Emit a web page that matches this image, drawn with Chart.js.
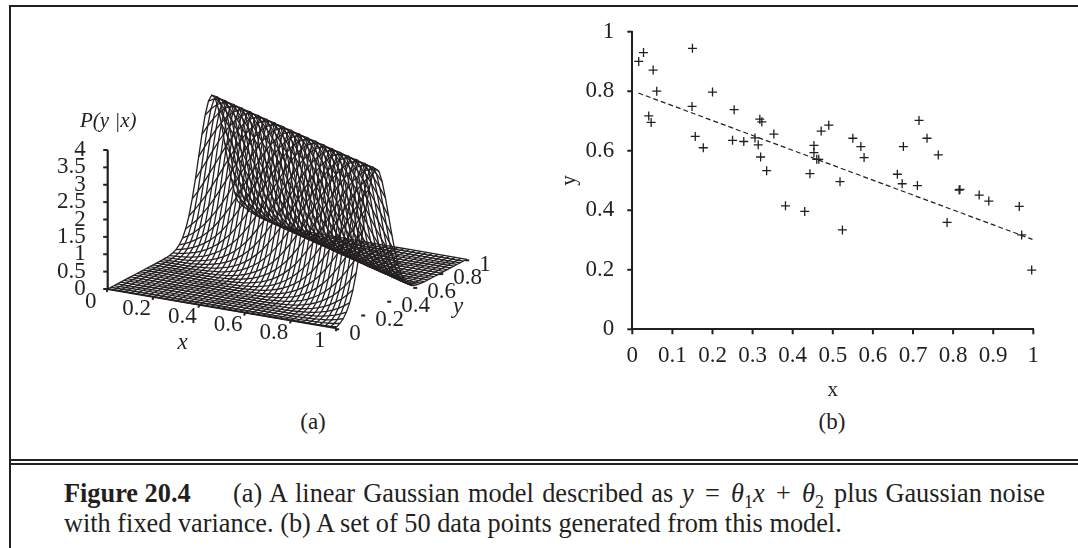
<!DOCTYPE html>
<html>
<head>
<meta charset="utf-8">
<title>Figure 20.4</title>
<script src="https://cdn.jsdelivr.net/npm/chart.js@4/dist/chart.umd.min.js"></script>
<style>
html, body { margin: 0; padding: 0; background: #fff; overflow: hidden; }
body { width: 1078px; height: 548px; position: relative; font-family: "Liberation Serif", serif; color: #231f20; }
.rule { position: absolute; background: #231f20; }
canvas { position: absolute; }
.sub { position: absolute; font-size: 23px; line-height: 26px; transform: translateX(-50%); }
.cap { position: absolute; font-size: 26.3px; line-height: 24px; white-space: nowrap; }
.cap i { font-style: italic; }
.cap sub { font-size: 18px; line-height: 0; }
</style>
</head>
<body>
<div class="rule" style="left:9px;top:5px;width:1069px;height:2px"></div>
<div class="rule" style="left:9px;top:5px;width:2px;height:543px"></div>
<div class="rule" style="left:9px;top:459px;width:1069px;height:2px"></div>
<div class="rule" style="left:9px;top:463px;width:1069px;height:2px"></div>

<canvas id="surfaceChart" style="left:12px;top:60px" width="500" height="340"></canvas>
<canvas id="scatterChart" style="left:550px;top:10px" width="510" height="395"></canvas>

<div class="sub" style="left:313px;top:409px">(a)</div>
<div class="sub" style="left:832px;top:409px">(b)</div>

<div class="cap" style="left:64px;top:482px"><b>Figure 20.4</b></div>
<div class="cap" style="left:233px;top:482px;word-spacing:1.8px">(a) A linear Gaussian model described as</div>
<div class="cap" style="left:682px;top:482px;word-spacing:4.7px"><i>y</i> = <i>&theta;</i><sub>1</sub><i>x</i> + <i>&theta;</i><sub>2</sub></div>
<div class="cap" style="left:834px;top:482px;word-spacing:1px">plus Gaussian noise</div>
<div class="cap" style="left:64px;top:512px">with fixed variance. (b) A set of 50 data points generated from this model.</div>

<script>
// Scatter panel (b)
const pointsX = [0.016, 0.028, 0.052, 0.061, 0.041, 0.047, 0.150, 0.149, 0.157, 0.177,
    0.200, 0.254, 0.250, 0.278, 0.318, 0.323, 0.353, 0.306, 0.314, 0.320,
    0.335, 0.443, 0.453, 0.453, 0.460, 0.465, 0.471, 0.490, 0.382, 0.430,
    0.518, 0.524, 0.550, 0.570, 0.578, 0.661, 0.673, 0.676, 0.711, 0.715,
    0.735, 0.763, 0.785, 0.815, 0.817, 0.865, 0.889, 0.965, 0.971, 0.996];
const pointsY = [0.900, 0.930, 0.871, 0.800, 0.717, 0.695, 0.944, 0.749, 0.648, 0.610,
    0.797, 0.738, 0.635, 0.631, 0.706, 0.697, 0.656, 0.643, 0.620, 0.579,
    0.533, 0.523, 0.618, 0.594, 0.571, 0.571, 0.666, 0.686, 0.415, 0.396,
    0.496, 0.334, 0.642, 0.614, 0.577, 0.521, 0.489, 0.614, 0.483, 0.702,
    0.642, 0.586, 0.359, 0.468, 0.470, 0.451, 0.431, 0.413, 0.317, 0.199];
const fitX = [0.015, 0.998];
const fitY = [0.794, 0.302];

// Surface panel (a): columns of the mesh and the ridge
const meshX = [0, 0.025, 0.05, 0.075, 0.1, 0.125, 0.15, 0.175, 0.2, 0.225, 0.25, 0.275, 0.3, 0.325, 0.35, 0.375, 0.4, 0.425, 0.45, 0.475,
    0.5, 0.525, 0.55, 0.575, 0.6, 0.625, 0.65, 0.675, 0.7, 0.725, 0.75, 0.775, 0.8, 0.825, 0.85, 0.875, 0.9, 0.925, 0.95, 0.975, 1];
const meshY = meshX;
const ridgeY = [0.8, 0.7875, 0.775, 0.7625, 0.75, 0.7375, 0.725, 0.7125, 0.7, 0.6875, 0.675, 0.6625, 0.65, 0.6375, 0.625, 0.6125, 0.6, 0.5875, 0.575, 0.5625,
    0.55, 0.5375, 0.525, 0.5125, 0.5, 0.4875, 0.475, 0.4625, 0.45, 0.4375, 0.425, 0.4125, 0.4, 0.3875, 0.375, 0.3625, 0.35, 0.3375, 0.325, 0.3125, 0.3];
// height against distance from the ridge, one entry per 0.0125
const ridgeProfile = [3.99, 3.96, 3.87, 3.72, 3.52, 3.28, 3.01, 2.72, 2.42, 2.12, 1.83, 1.55, 1.30, 1.07, 0.86, 0.69, 0.54, 0.42, 0.32, 0.24,
    0.175, 0.13, 0.09, 0.06, 0.045, 0.03, 0.02, 0.013, 0.008, 0.005, 0.003, 0.002, 0.001];
const PROFILE_STEP = 0.0125;

const xTicks3d = ['0', '0.2', '0.4', '0.6', '0.8', '1'];
const yTicks3d = ['0', '0.2', '0.4', '0.6', '0.8', '1'];
const zTicks3d = ['0', '0.5', '1', '1.5', '2', '2.5', '3', '3.5', '4'];

const ink = '#231f20';
const serif = '"Liberation Serif", serif';

// oblique projection of the box, in canvas units of the surface chart
const ORIGIN = { x: 95.7, y: 229 };
const AXIS_X = { x: 229, y: 39.3 };
const AXIS_Y = { x: 130, y: -69 };
const UNIT_Z = 34.75;

function project(x, y, z) {
    return {
        x: ORIGIN.x + x * AXIS_X.x + y * AXIS_Y.x,
        y: ORIGIN.y + x * AXIS_X.y + y * AXIS_Y.y - z * UNIT_Z
    };
}

function heightAt(i, j) {
    const idx = Math.round(Math.abs(meshY[j] - ridgeY[i]) / PROFILE_STEP);
    return idx < ridgeProfile.length ? ridgeProfile[idx] : 0;
}

function meshLine(points, width) {
    return { data: points, showLine: true, pointRadius: 0, borderColor: ink, borderWidth: width, tension: 0 };
}

const surfaceSets = [];
meshX.forEach((x, i) => {
    surfaceSets.push(meshLine(meshY.map((y, j) => project(x, y, heightAt(i, j))), 1.3));
});
meshY.forEach((y, j) => {
    surfaceSets.push(meshLine(meshX.map((x, i) => project(x, y, heightAt(i, j))), 1.3));
});

// box axes and their ticks
const axisSets = [
    meshLine([project(0, 0, 0), project(0, 0, 4)], 2.2),
    meshLine([project(0, 0, 0), project(1, 0, 0)], 2)
];
zTicks3d.forEach(t => {
    const p = project(0, 0, parseFloat(t));
    axisSets.push(meshLine([p, { x: p.x - 4.5, y: p.y }], 2));
});
xTicks3d.forEach(t => {
    const p = project(parseFloat(t), 0, 0);
    axisSets.push(meshLine([p, { x: p.x - 1, y: p.y + 3 }], 2));
});
yTicks3d.forEach(t => {
    const p = project(1, parseFloat(t), 0);
    axisSets.push(meshLine([{ x: p.x - 1.5, y: p.y + 1 }, { x: p.x + 2.5, y: p.y + 1 }], 2));
});

// text placed through the chart's own scales
function textPlugin(labels) {
    return {
        id: 'panelText',
        afterDraw(chart) {
            const { ctx, scales } = chart;
            ctx.save();
            ctx.fillStyle = ink;
            ctx.textBaseline = 'middle';
            labels.forEach(l => {
                ctx.font = (l.italic ? 'italic ' : '') + l.size + 'px ' + serif;
                ctx.textAlign = l.align || 'center';
                ctx.fillText(l.text, scales.x.getPixelForValue(l.x), scales.y.getPixelForValue(l.y));
            });
            ctx.restore();
        }
    };
}

const surfaceLabels = [];
zTicks3d.forEach(t => {
    const p = project(0, 0, parseFloat(t));
    surfaceLabels.push({ text: t, x: p.x - 22, y: p.y, size: 23, align: 'right' });
});
xTicks3d.forEach(t => {
    const p = project(parseFloat(t), 0, 0);
    surfaceLabels.push({ text: t, x: p.x - 17, y: p.y + 12.5, size: 23 });
});
yTicks3d.forEach(t => {
    const p = project(1, parseFloat(t), 0);
    surfaceLabels.push({ text: t, x: p.x + 12.5, y: p.y + 5.2, size: 23, align: 'left' });
});
surfaceLabels.push({ text: 'P(y |x)', x: 68, y: 61.7, size: 21, italic: true, align: 'left' });
surfaceLabels.push({ text: 'x', x: 170.7, y: 283.3, size: 23, italic: true });
surfaceLabels.push({ text: 'y', x: 446, y: 246.7, size: 23, italic: true });

new Chart(document.getElementById('surfaceChart'), {
    type: 'scatter',
    data: { datasets: surfaceSets.concat(axisSets) },
    options: {
        responsive: false,
        animation: false,
        layout: { padding: 0 },
        plugins: { legend: { display: false }, tooltip: { enabled: false } },
        scales: {
            x: { type: 'linear', display: false, min: 0, max: 500 },
            y: { type: 'linear', display: false, min: 0, max: 340, reverse: true }
        }
    },
    plugins: [textPlugin(surfaceLabels)]
});

function noScalePadding(scale) {
    scale.paddingTop = 0;
    scale.paddingBottom = 0;
    scale.paddingLeft = 0;
    scale.paddingRight = 0;
}

// plus-sign markers and dashed fit line
new Chart(document.getElementById('scatterChart'), {
    type: 'scatter',
    data: {
        datasets: [
            {
                label: 'points',
                data: pointsX.map((x, i) => ({ x: x, y: pointsY[i] })),
                pointStyle: 'cross',
                pointRadius: 4.5,
                pointBorderWidth: 1.3,
                pointBorderColor: ink,
                showLine: false,
                clip: false
            },
            {
                label: 'fit',
                data: fitX.map((x, i) => ({ x: x, y: fitY[i] })),
                showLine: true,
                pointRadius: 0,
                borderColor: ink,
                borderWidth: 1.2,
                borderDash: [5, 3],
                clip: false
            }
        ]
    },
    options: {
        responsive: false,
        animation: false,
        layout: { padding: { top: 21.7, right: 26.7, left: 0, bottom: 0 } },
        plugins: { legend: { display: false }, tooltip: { enabled: false } },
        scales: {
            x: {
                type: 'linear', min: 0, max: 1,
                afterFit(scale) { scale.height = 75.7; noScalePadding(scale); },
                grid: { display: false, drawOnChartArea: false, drawTicks: false },
                border: { color: ink, width: 2 },
                title: { display: true, text: 'x', font: { family: serif, size: 21 }, color: ink, padding: { top: 8, bottom: 2 } },
                ticks: {
                    stepSize: 0.1, color: ink, padding: 13, maxRotation: 0, autoSkip: false,
                    font: { family: serif, size: 23 },
                    callback: v => String(Math.round(v * 10) / 10)
                }
            },
            y: {
                type: 'linear', min: 0, max: 1,
                afterFit(scale) { scale.width = 82.3; noScalePadding(scale); },
                grid: { display: false, drawOnChartArea: false, drawTicks: false },
                border: { color: ink, width: 2 },
                title: { display: true, text: 'y', font: { family: serif, size: 21 }, color: ink, padding: { top: 7, bottom: 10 } },
                ticks: {
                    stepSize: 0.2, color: ink, padding: 18,
                    font: { family: serif, size: 23 },
                    callback: v => String(Math.round(v * 10) / 10)
                }
            }
        }
    },
    plugins: [{
        // outward tick marks on both axes
        id: 'outerTicks',
        afterDraw(chart) {
            const { ctx, scales, chartArea } = chart;
            ctx.save();
            ctx.strokeStyle = ink;
            ctx.lineWidth = 2;
            scales.x.ticks.forEach(t => {
                const px = scales.x.getPixelForValue(t.value);
                ctx.beginPath(); ctx.moveTo(px, chartArea.bottom); ctx.lineTo(px, chartArea.bottom + 5); ctx.stroke();
            });
            scales.y.ticks.forEach(t => {
                const py = scales.y.getPixelForValue(t.value);
                ctx.beginPath(); ctx.moveTo(chartArea.left, py); ctx.lineTo(chartArea.left - 5, py); ctx.stroke();
            });
            ctx.restore();
        }
    }]
});
</script>
</body>
</html>
